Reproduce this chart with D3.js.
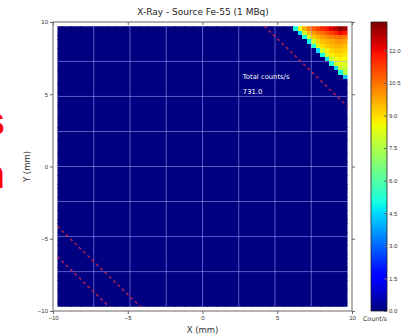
<!DOCTYPE html>
<html>
<head>
<meta charset="utf-8">
<script src="https://cdn.jsdelivr.net/npm/d3@7"></script>
<style>
  body { margin: 0; background: #fff; }
  svg { display: block; font-family: 'DejaVu Sans', sans-serif; }
  .tick text { fill: #333; }
</style>
</head>
<body>
<div id="chart"></div>
<script>
const width = 411;
const height = 336;

// heatmap: 64 x 64 cells, all zero except the top-right corner (rows from top, last 12 columns)
const gridSize = 64;
const cornerCounts = [
  [5.0, 8.4, 9.6, 10.3, 10.8, 11.2, 11.5, 11.8, 12.2, 12.6, 13.1, 12.8],
  [0, 4.5, 8.0, 9.4, 9.9, 10.3, 10.6, 10.9, 11.2, 11.6, 12.0, 11.8],
  [0, 0, 5.0, 8.2, 9.2, 9.6, 9.9, 10.1, 10.3, 10.5, 10.6, 10.4],
  [0, 0, 0, 4.8, 8.0, 9.0, 9.4, 9.6, 9.7, 9.9, 10.0, 9.8],
  [0, 0, 0, 0, 5.2, 8.2, 8.9, 9.3, 9.5, 9.6, 9.6, 9.4],
  [0, 0, 0, 0, 0, 4.6, 8.0, 8.7, 9.1, 9.3, 9.3, 9.1],
  [0, 0, 0, 0, 0, 0, 5.0, 8.1, 8.7, 8.9, 9.0, 8.8],
  [0, 0, 0, 0, 0, 0, 0, 4.8, 7.9, 8.5, 8.7, 8.5],
  [0, 0, 0, 0, 0, 0, 0, 0, 5.2, 8.0, 8.4, 8.2],
  [0, 0, 0, 0, 0, 0, 0, 0, 0, 4.5, 7.8, 7.9],
  [0, 0, 0, 0, 0, 0, 0, 0, 0, 0, 5.0, 7.4],
  [0, 0, 0, 0, 0, 0, 0, 0, 0, 0, 0, 4.2],
];
const imageExtent = [-9.7, 9.7];
const totalCounts = 731.0;

const axisTicks = [-10, -5, 0, 5, 10];
const gridLines = [-7.275, -4.85, -2.425, 0, 2.425, 4.85, 7.275];
// dashed guide lines, x + y = c
const diagonals = [13.85, -13.85, -15.95];

const colorMax = 13.3;
const colorTicks = [0, 1.5, 3, 4.5, 6, 7.5, 9, 10.5, 12];

// matplotlib "jet"
const seg = (pts) =>
  d3.scaleLinear().domain(pts.map((p) => p[0])).range(pts.map((p) => p[1])).clamp(true);
const jetR = seg([[0, 0], [0.35, 0], [0.66, 1], [0.89, 1], [1, 0.5]]);
const jetG = seg([[0, 0], [0.125, 0], [0.375, 1], [0.64, 1], [0.91, 0], [1, 0]]);
const jetB = seg([[0, 0.5], [0.11, 1], [0.34, 1], [0.65, 0], [1, 0]]);
const jet = (t) => d3.rgb(jetR(t) * 255, jetG(t) * 255, jetB(t) * 255).formatHex();

const norm = d3.scaleLinear().domain([0, colorMax]).range([0, 1]).clamp(true);
const color = (v) => jet(norm(v));

const x = d3.scaleLinear().domain([-10, 10]).range([53, 352]);
const y = d3.scaleLinear().domain([-10, 10]).range([311, 22]);

const svg = d3
  .select('#chart')
  .append('svg')
  .attr('width', width)
  .attr('height', height);

svg.append('rect').attr('width', width).attr('height', height).attr('fill', '#fff');

// red text cut off at the left border (as in the source image)
svg.append('text').attr('x', 5).attr('y', 135).attr('text-anchor', 'end')
  .style('font-family', 'Liberation Sans, sans-serif').style('font-size', '40px')
  .style('font-weight', 'bold').attr('fill', '#f00').text('s');
svg.append('text').attr('x', 5).attr('y', 188).attr('text-anchor', 'end')
  .style('font-family', 'Liberation Sans, sans-serif').style('font-size', '40px')
  .style('font-weight', 'bold').attr('fill', '#f00').text('n');

// cells
const cells = [];
const offset = gridSize - cornerCounts[0].length;
for (let r = 0; r < gridSize; r++) {
  for (let c = 0; c < gridSize; c++) {
    const row = cornerCounts[r];
    const v = row && c >= offset ? row[c - offset] : 0;
    cells.push({ r, c, v });
  }
}

const colBand = d3.scaleBand().domain(d3.range(gridSize)).range([x(imageExtent[0]), x(imageExtent[1])]);
const rowBand = d3.scaleBand().domain(d3.range(gridSize)).range([y(imageExtent[1]), y(imageExtent[0])]);

svg.append('defs').append('clipPath').attr('id', 'imgClip')
  .append('rect')
  .attr('x', x(imageExtent[0])).attr('y', y(imageExtent[1]))
  .attr('width', x(imageExtent[1]) - x(imageExtent[0]))
  .attr('height', y(imageExtent[0]) - y(imageExtent[1]));

const img = svg.append('g').attr('clip-path', 'url(#imgClip)');

img
  .selectAll('.cell')
  .data(cells)
  .enter()
  .append('rect')
  .classed('cell', true)
  .attr('x', (d) => colBand(d.c))
  .attr('y', (d) => rowBand(d.r))
  .attr('width', colBand.bandwidth() + 0.5)
  .attr('height', rowBand.bandwidth() + 0.5)
  .attr('fill', (d) => color(d.v))
  .attr('shape-rendering', 'crispEdges');

// grid
img.selectAll('.gx').data(gridLines).enter().append('line')
  .attr('x1', (d) => x(d)).attr('x2', (d) => x(d))
  .attr('y1', y(imageExtent[1])).attr('y2', y(imageExtent[0]))
  .attr('stroke', 'rgba(170,170,255,0.55)').attr('stroke-width', 1);
img.selectAll('.gy').data(gridLines).enter().append('line')
  .attr('y1', (d) => y(d)).attr('y2', (d) => y(d))
  .attr('x1', x(imageExtent[0])).attr('x2', x(imageExtent[1]))
  .attr('stroke', 'rgba(170,170,255,0.55)').attr('stroke-width', 1);

// dashed diagonals
img.selectAll('.diag').data(diagonals).enter().append('line')
  .attr('x1', (d) => x(-10)).attr('y1', (d) => y(d + 10))
  .attr('x2', (d) => x(10)).attr('y2', (d) => y(d - 10))
  .attr('stroke', '#d02850').attr('stroke-width', 1.5)
  .attr('stroke-dasharray', '3,3').attr('opacity', 0.85);

// frame
svg.append('rect')
  .attr('x', x(-10)).attr('y', y(10))
  .attr('width', x(10) - x(-10)).attr('height', y(-10) - y(10))
  .attr('fill', 'none').attr('stroke', '#666').attr('stroke-width', 1);

const styleAxis = (g) => {
  g.select('.domain').remove();
  g.selectAll('.tick line').attr('stroke', '#666');
  g.selectAll('.tick text').style('font-size', '6px');
};

svg.append('g').attr('transform', `translate(0,${y(-10)})`)
  .call(d3.axisBottom(x).tickValues(axisTicks).tickSize(3).tickPadding(2)).call(styleAxis);
svg.append('g').attr('transform', `translate(0,${y(10)})`)
  .call(d3.axisTop(x).tickValues(axisTicks).tickSize(-3).tickFormat('')).call(styleAxis);
svg.append('g').attr('transform', `translate(${x(-10)},0)`)
  .call(d3.axisLeft(y).tickValues(axisTicks).tickSize(3).tickPadding(2)).call(styleAxis);
svg.append('g').attr('transform', `translate(${x(10)},0)`)
  .call(d3.axisRight(y).tickValues(axisTicks).tickSize(3).tickFormat('')).call(styleAxis);

// labels
svg.append('text').attr('x', 203).attr('y', 15).attr('text-anchor', 'middle')
  .style('font-size', '9px').attr('fill', '#222').text('X-Ray - Source Fe-55 (1 MBq)');
svg.append('text').attr('x', x(0)).attr('y', 333).attr('text-anchor', 'middle')
  .style('font-size', '8.5px').attr('fill', '#333').text('X (mm)');
svg.append('text').attr('transform', `translate(30,${y(0)}) rotate(-90)`).attr('text-anchor', 'middle')
  .style('font-size', '8.5px').attr('fill', '#333').text('Y (mm)');

svg.append('text').attr('x', x(2.7)).attr('y', 79)
  .style('font-size', '6.8px').attr('fill', '#fff').text('Total counts/s');
svg.append('text').attr('x', x(2.7)).attr('y', 94)
  .style('font-size', '6.8px').attr('fill', '#fff').text(d3.format('.1f')(totalCounts));

// colorbar
const cb = d3.scaleLinear().domain([0, colorMax]).range([311, 22]);
const grad = svg.select('defs').append('linearGradient').attr('id', 'jetGrad')
  .attr('x1', 0).attr('y1', 1).attr('x2', 0).attr('y2', 0);
grad.selectAll('stop').data(d3.range(0, 1.0001, 0.01)).enter().append('stop')
  .attr('offset', (d) => d).attr('stop-color', (d) => jet(d));

svg.append('rect').attr('x', 371).attr('y', cb(colorMax))
  .attr('width', 16).attr('height', cb(0) - cb(colorMax))
  .attr('fill', 'url(#jetGrad)').attr('stroke', '#222').attr('stroke-width', 0.8);

svg.append('g').attr('transform', 'translate(387,0)')
  .call(d3.axisRight(cb).tickValues(colorTicks).tickFormat(d3.format('.1f')).tickSize(-3).tickPadding(2))
  .call(styleAxis);

svg.append('text').attr('x', 375).attr('y', 321).attr('text-anchor', 'middle')
  .style('font-size', '6.3px').attr('fill', '#333').text('Count/s');
</script>
</body>
</html>
